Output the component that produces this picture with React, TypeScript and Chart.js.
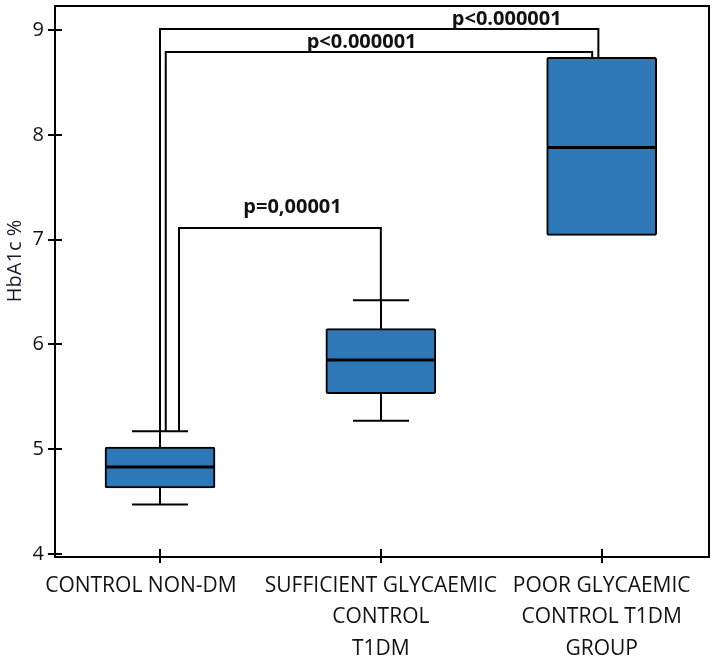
import React, { useEffect, useRef } from 'react';
import { Chart, registerables } from 'chart.js';

Chart.register(...registerables);

// ---- data ----
const categories = ['CONTROL NON-DM', 'SUFFICIENT GLYCAEMIC CONTROL T1DM', 'POOR GLYCAEMIC CONTROL T1DM GROUP'];
const categoryLines = [
  ['CONTROL NON-DM       '],
  ['SUFFICIENT GLYCAEMIC', 'CONTROL', 'T1DM'],
  ['POOR GLYCAEMIC', 'CONTROL T1DM', 'GROUP'],
];
const whiskerLow = [4.47, 5.27, 7.04];
const q1 = [4.63, 5.53, 7.04];
const median = [4.83, 5.85, 7.88];
const q3 = [5.02, 6.15, 8.74];
const whiskerHigh = [5.17, 6.42, 8.74];
const yTicks = [4, 5, 6, 7, 8, 9];
const yTitle = 'HbA1c %';

// significance brackets (data units)
const bracketX1 = [0.086, 0.026, 0.0];
const bracketY1 = [5.17, 5.17, 5.17];
const bracketTop = [7.11, 8.79, 9.01];
const bracketX2 = [1.0, 1.957, 1.985];
const bracketY2 = [6.42, 8.74, 8.74];
const pLabels = ['p=0,00001', 'p<0.000001', 'p<0.000001'];
const pLabelX = [0.6, 0.913, 1.57];
const pLabelY = [7.25, 8.83, 9.05];

// ---- styles ----
const BOX_FILL = '#2e78b7';
const BOX_HALF = 55;
const CAP_HALF = 28;
const FONT = "'Open Sans', 'Noto Sans', sans-serif";

const extrasPlugin = {
  id: 'boxExtras',
  afterDatasetsDraw(chart: any) {
    const { ctx, scales } = chart;
    const x = scales.x;
    const y = scales.y;
    const line = (x1: number, y1: number, x2: number, y2: number) => {
      ctx.beginPath();
      ctx.moveTo(x1, y1);
      ctx.lineTo(x2, y2);
      ctx.stroke();
    };
    ctx.save();
    ctx.strokeStyle = '#000';
    ctx.lineCap = 'butt';
    // whiskers & caps
    ctx.lineWidth = 2;
    categories.forEach((_, i) => {
      const cx = Math.round(x.getPixelForValue(i));
      if (whiskerHigh[i] > q3[i]) {
        const yh = y.getPixelForValue(whiskerHigh[i]);
        line(cx, y.getPixelForValue(q3[i]), cx, yh);
        line(cx - CAP_HALF, yh, cx + CAP_HALF, yh);
      }
      if (whiskerLow[i] < q1[i]) {
        const yl = y.getPixelForValue(whiskerLow[i]);
        line(cx, y.getPixelForValue(q1[i]), cx, yl);
        line(cx - CAP_HALF, yl, cx + CAP_HALF, yl);
      }
    });
    // medians
    ctx.lineWidth = 3;
    categories.forEach((_, i) => {
      const cx = x.getPixelForValue(i);
      const ym = y.getPixelForValue(median[i]);
      line(cx - BOX_HALF + 1, ym, cx + BOX_HALF - 1, ym);
    });
    // brackets
    ctx.lineWidth = 2;
    ctx.lineJoin = 'miter';
    pLabels.forEach((_, i) => {
      ctx.beginPath();
      ctx.moveTo(x.getPixelForValue(bracketX1[i]), y.getPixelForValue(bracketY1[i]));
      ctx.lineTo(x.getPixelForValue(bracketX1[i]), y.getPixelForValue(bracketTop[i]));
      ctx.lineTo(x.getPixelForValue(bracketX2[i]), y.getPixelForValue(bracketTop[i]));
      ctx.lineTo(x.getPixelForValue(bracketX2[i]), y.getPixelForValue(bracketY2[i]));
      ctx.stroke();
    });
    // p labels
    ctx.fillStyle = '#111';
    ctx.font = `bold 20px ${FONT}`;
    ctx.textAlign = 'center';
    ctx.textBaseline = 'alphabetic';
    pLabels.forEach((t, i) => {
      ctx.fillText(t, x.getPixelForValue(pLabelX[i]), y.getPixelForValue(pLabelY[i]));
    });
    ctx.restore();
  },
  afterDraw(chart: any) {
    const { ctx, chartArea: a, scales } = chart;
    ctx.save();
    ctx.strokeStyle = '#000';
    ctx.lineWidth = 2;
    ctx.strokeRect(a.left, a.top, a.right - a.left, a.bottom - a.top);
    // inward tick stubs
    scales.y.ticks.forEach((t: any) => {
      const py = Math.round(scales.y.getPixelForValue(t.value));
      ctx.beginPath();
      ctx.moveTo(a.left, py);
      ctx.lineTo(a.left + 7, py);
      ctx.stroke();
    });
    scales.x.ticks.forEach((t: any) => {
      const px = Math.round(scales.x.getPixelForValue(t.value));
      ctx.beginPath();
      ctx.moveTo(px, a.bottom);
      ctx.lineTo(px, a.bottom - 8);
      ctx.stroke();
    });
    // y title
    ctx.translate(15, a.top + 255);
    ctx.rotate(-Math.PI / 2);
    ctx.fillStyle = '#1a1a2a';
    ctx.font = `20px ${FONT}`;
    ctx.textAlign = 'center';
    ctx.textBaseline = 'middle';
    ctx.fillText(yTitle, 0, 0);
    ctx.restore();
  },
};

export default function App() {
  const ref = useRef<HTMLCanvasElement | null>(null);
  useEffect(() => {
    if (!ref.current) return;
    const chart = new Chart(ref.current, {
      type: 'bar',
      data: {
        datasets: [
          {
            label: 'HbA1c',
            data: categories.map((_, i) => ({ x: i, y: [q1[i], q3[i]] })) as any,
            backgroundColor: BOX_FILL,
            borderColor: '#000',
            borderWidth: 2,
            borderSkipped: false,
            borderRadius: 2,
            barThickness: BOX_HALF * 2,
          },
        ],
      },
      options: {
        animation: false,
        responsive: true,
        maintainAspectRatio: false,
        layout: { padding: { top: 6, right: 7, left: 0, bottom: 0 } },
        plugins: { legend: { display: false }, tooltip: { enabled: false }, title: { display: false } },
        scales: {
          x: {
            type: 'linear',
            min: -0.4755,
            max: 2.486,
            offset: false,
            border: { display: false },
            grid: { offset: false, drawOnChartArea: false, drawTicks: true, tickLength: 6, color: '#000', lineWidth: 2 },
            afterBuildTicks: (s: any) => {
              s.ticks = categories.map((_, i) => ({ value: i }));
            },
            afterFit: (s: any) => {
              s.height = 106;
              s.paddingLeft = 0;
              s.paddingRight = 0;
            },
            ticks: {
              autoSkip: false,
              maxRotation: 0,
              minRotation: 0,
              padding: 7,
              color: '#111',
              font: { family: FONT, size: 21, lineHeight: 1.5 },
              callback: (v: any) => categoryLines[v as number] ?? '',
            },
          },
          y: {
            type: 'linear',
            min: 3.97,
            max: 9.23,
            border: { display: false },
            grid: { drawOnChartArea: false, drawTicks: true, tickLength: 7, color: '#000', lineWidth: 2 },
            afterBuildTicks: (s: any) => {
              s.ticks = yTicks.map((v) => ({ value: v }));
            },
            afterFit: (s: any) => {
              s.width = 55;
              s.paddingTop = 0;
              s.paddingBottom = 0;
            },
            ticks: {
              padding: 4,
              color: '#111',
              font: { family: FONT, size: 20 },
            },
          },
        },
      },
      plugins: [extrasPlugin],
    });
    return () => chart.destroy();
  }, []);
  return (
    <div style={{ position: 'fixed', left: 0, top: 0, width: 716, height: 663, background: '#fff' }}>
      <canvas ref={ref} />
    </div>
  );
}
